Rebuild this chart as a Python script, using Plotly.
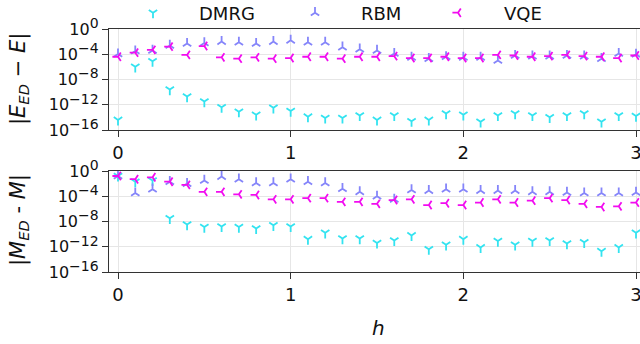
import plotly.graph_objects as go

h = [0.0, 0.1, 0.2, 0.3, 0.4, 0.5, 0.6, 0.7, 0.8, 0.9, 1.0,
     1.1, 1.2, 1.3, 1.4, 1.5, 1.6, 1.7, 1.8, 1.9, 2.0,
     2.1, 2.2, 2.3, 2.4, 2.5, 2.6, 2.7, 2.8, 2.9, 3.0]

# |E_ED - E|
dmrg_energy = [4.0e-15, 1.0e-6, 7.9e-6, 2.5e-10, 2.0e-11, 3.2e-12, 4.0e-13, 7.9e-14, 2.5e-14, 3.2e-13, 1.0e-13,
               1.3e-14, 7.9e-15, 7.9e-15, 2.0e-14, 4.0e-15, 2.0e-14, 2.5e-15, 4.0e-15, 4.0e-14, 2.5e-14,
               2.0e-15, 2.0e-14, 4.0e-14, 2.0e-14, 1.0e-14, 2.0e-14, 4.0e-14, 2.0e-15, 2.0e-14, 1.6e-14]
rbm_energy = [1.1e-4, 3.2e-4, 4.0e-4, 2.5e-3, 5.0e-3, 6.3e-3, 1.0e-2, 7.9e-3, 5.0e-3, 1.0e-2, 1.6e-2,
              7.9e-3, 7.9e-3, 1.3e-3, 6.3e-4, 4.0e-4, 1.3e-4, 3.2e-5, 2.0e-5, 4.0e-5, 3.2e-5,
              3.2e-5, 1.0e-5, 6.3e-5, 5.0e-5, 5.0e-5, 6.3e-5, 5.0e-5, 2.0e-5, 1.3e-4, 1.0e-4]
vqe_energy = [4.0e-5, 1.8e-4, 5.0e-4, 1.6e-3, 7.9e-5, 2.0e-3, 3.2e-5, 2.0e-5, 3.2e-5, 2.0e-5, 2.5e-5,
              4.0e-5, 4.0e-5, 2.0e-5, 4.0e-5, 4.0e-5, 5.0e-5, 2.5e-5, 2.5e-5, 4.0e-5, 2.5e-5,
              2.5e-5, 7.9e-5, 6.3e-5, 4.0e-5, 5.0e-5, 7.9e-5, 5.0e-5, 4.0e-5, 2.5e-5, 6.3e-5]

# |M_ED - M|
dmrg_mag = [1.6e-1, 2.0e-2, 3.2e-2, 3.2e-8, 3.2e-9, 1.3e-9, 1.6e-9, 1.3e-9, 7.9e-10, 2.5e-9, 1.6e-9,
            1.6e-11, 1.6e-10, 2.0e-11, 2.0e-11, 4.0e-12, 1.0e-11, 6.3e-11, 4.0e-13, 2.0e-12, 1.6e-11,
            7.9e-13, 7.9e-12, 2.0e-12, 7.9e-12, 1.0e-11, 3.2e-12, 5.0e-12, 2.0e-13, 7.9e-13, 1.6e-10]
rbm_mag = [1.6e-1, 3.2e-4, 1.3e-3, 2.0e-2, 1.0e-2, 3.2e-2, 1.3e-1, 5.0e-2, 1.3e-2, 1.3e-2, 5.0e-2,
           2.0e-2, 1.3e-2, 1.6e-3, 5.0e-4, 1.0e-4, 3.2e-5, 1.0e-3, 7.9e-4, 1.3e-3, 1.3e-3,
           7.9e-4, 7.9e-4, 7.9e-4, 5.0e-4, 5.0e-4, 4.0e-4, 3.2e-4, 3.2e-4, 3.2e-4, 4.0e-4]
vqe_mag = [1.6e-1, 5.0e-2, 1.0e-1, 2.0e-2, 6.3e-3, 5.0e-4, 5.0e-4, 2.0e-4, 1.6e-4, 3.2e-5, 3.2e-5,
           5.0e-5, 5.0e-5, 1.3e-5, 1.3e-5, 6.3e-6, 2.5e-5, 3.2e-5, 4.0e-6, 7.9e-6, 4.0e-6,
           1.0e-5, 3.2e-5, 1.0e-5, 2.0e-5, 5.0e-5, 2.5e-5, 6.3e-6, 2.0e-6, 2.5e-6, 1.0e-5]

series_names = ["DMRG", "RBM", "VQE"]
y_tickvals = [1e-16, 1e-12, 1e-8, 1e-4, 1e0]
y_tickexp = ["−16", "−12", "−8", "−4", "0"]
x_tickvals = [0, 1, 2, 3]
x_ticktext = ["0", "1", "2", "3"]

FONT = "DejaVu Sans"
W, H = 640, 344
y_ticktext = ["10<sup><span style='font-size:14px'>%s</span></sup>" % e for e in y_tickexp]

colors = {"DMRG": "#33e3f0", "RBM": "#8585fa", "VQE": "#f20cf0"}
symbols = {"DMRG": "y-down", "RBM": "y-up", "VQE": "y-left"}
legend_ids = {"DMRG": "legend", "RBM": "legend2", "VQE": "legend3"}

fig = go.Figure()

top = {"DMRG": dmrg_energy, "RBM": rbm_energy, "VQE": vqe_energy}
bot = {"DMRG": dmrg_mag, "RBM": rbm_mag, "VQE": vqe_mag}

for name in series_names:
    mk = dict(symbol=symbols[name], size=7, color=colors[name],
              line=dict(color=colors[name], width=1.8))
    fig.add_trace(go.Scatter(x=h, y=top[name], mode="markers", name=name, marker=mk,
                             xaxis="x", yaxis="y", legend=legend_ids[name], showlegend=True))
for name in series_names:
    mk = dict(symbol=symbols[name], size=7, color=colors[name],
              line=dict(color=colors[name], width=1.8))
    fig.add_trace(go.Scatter(x=h, y=bot[name], mode="markers", name=name, marker=mk,
                             xaxis="x2", yaxis="y2", showlegend=False))

def px_x(p):
    return p / W

def px_y(p):
    return 1 - p / H

x0_px, x_unit = 118.0, 172.67
xrange = [(109 - x0_px) / x_unit, (W - x0_px) / x_unit]

spine = "#333333"
grid = "#e6e6e6"

xcommon = dict(type="linear", range=xrange, domain=[px_x(109), 1.0],
               tickvals=x_tickvals, ticktext=x_ticktext,
               showgrid=True, gridcolor=grid, gridwidth=1,
               showline=True, linecolor=spine, linewidth=1.3, mirror=True,
               ticks="outside", ticklen=6, tickwidth=1.3, tickcolor=spine,
               ticklabeloverflow="allow",
               tickfont=dict(family=FONT, size=18, color="#111111"),
               zeroline=False, automargin=False)
ycommon = dict(type="log", range=[-16, 0],
               tickvals=y_tickvals, ticktext=y_ticktext,
               showgrid=True, gridcolor=grid, gridwidth=1,
               showline=True, linecolor=spine, linewidth=1.3, mirror=False,
               ticks="outside", ticklen=6, tickwidth=1.3, tickcolor=spine,
               tickfont=dict(family=FONT, size=16, color="#111111"),
               zeroline=False, automargin=False)

fig.update_layout(
    width=W, height=H,
    margin=dict(l=0, r=0, t=0, b=0, pad=0, autoexpand=False),
    paper_bgcolor="white", plot_bgcolor="white",
    xaxis=dict(xcommon, anchor="y"),
    yaxis=dict(ycommon, domain=[px_y(130), px_y(29)], anchor="x"),
    xaxis2=dict(xcommon, anchor="y2"),
    yaxis2=dict(ycommon, domain=[px_y(272), px_y(171)], anchor="x2"),
    font=dict(family=FONT, size=18, color="#111111"),
)

leg_common = dict(orientation="h", xanchor="left", yanchor="middle",
                  bgcolor="rgba(0,0,0,0)", borderwidth=0, itemwidth=82,
                  font=dict(family=FONT, size=18, color="#111111"))
fig.update_layout(
    legend=dict(leg_common, x=px_x(150 - 43), y=px_y(13)),
    legend2=dict(leg_common, x=px_x(312 - 43), y=px_y(13)),
    legend3=dict(leg_common, x=px_x(455 - 43), y=px_y(13)),
)

fig.add_annotation(text="<i>h</i>", x=px_x(378), y=px_y(328), xref="paper", yref="paper",
                   showarrow=False, xanchor="center", yanchor="middle",
                   font=dict(family=FONT, size=20, color="#111111"))
fig.add_annotation(text="|<i>E</i><sub><i>ED</i></sub> − <i>E</i>|", x=px_x(19), y=px_y(79),
                   xref="paper", yref="paper", showarrow=False, textangle=-90,
                   xanchor="center", yanchor="middle",
                   font=dict(family=FONT, size=21, color="#111111"))
fig.add_annotation(text="|<i>M</i><sub><i>ED</i></sub> - <i>M</i>|", x=px_x(19), y=px_y(220),
                   xref="paper", yref="paper", showarrow=False, textangle=-90,
                   xanchor="center", yanchor="middle",
                   font=dict(family=FONT, size=21, color="#111111"))

fig.write_html("out.html", config={"displayModeBar": False},
               post_script="document.body.style.margin='0px';")
